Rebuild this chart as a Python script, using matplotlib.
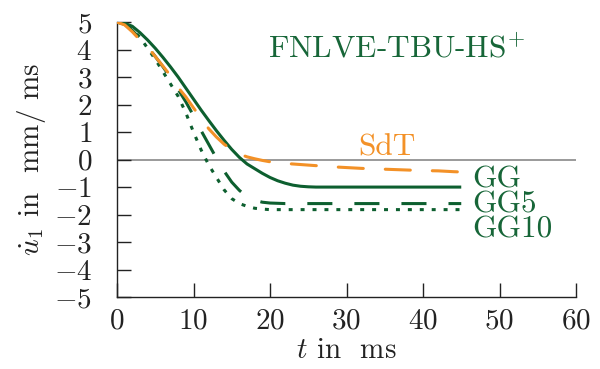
import matplotlib
matplotlib.use("Agg")
import matplotlib.pyplot as plt

plt.rcParams["font.family"] = "serif"
plt.rcParams["font.serif"] = ["cmr10", "DejaVu Serif"]
plt.rcParams["mathtext.fontset"] = "cm"
plt.rcParams["axes.formatter.use_mathtext"] = True

# time axis in ms
t_gg = [0, 1, 2, 3, 4, 5, 6, 7, 8, 9, 10, 11, 12, 13, 14, 15, 16, 17, 18, 19,
        20, 21, 22, 23, 24, 25, 26, 30, 35, 40, 45]
u_gg = [5.0, 4.96, 4.85, 4.62, 4.35, 4.05, 3.72, 3.37, 3.0, 2.6, 2.2, 1.8, 1.42,
        1.05, 0.7, 0.37, 0.08, -0.16, -0.33, -0.5, -0.65, -0.77, -0.86, -0.93,
        -0.97, -0.99, -1.0, -1.0, -1.0, -1.0, -1.0]

t_gg5 = [0, 1, 2, 3, 4, 5, 6, 7, 8, 9, 10, 11, 12, 13, 14, 15, 16, 17, 18, 19,
         20, 22, 30, 40, 45]
u_gg5 = [5.0, 4.92, 4.7, 4.4, 4.1, 3.75, 3.38, 2.98, 2.55, 2.1, 1.6, 1.05, 0.55,
         0.05, -0.42, -0.82, -1.12, -1.35, -1.48, -1.55, -1.58, -1.6, -1.6, -1.6,
         -1.6]

t_gg10 = [0, 1, 2, 3, 4, 5, 6, 7, 8, 9, 10, 11, 12, 13, 14, 15, 16, 17, 18, 19,
          20, 30, 40, 45]
u_gg10 = [5.0, 4.95, 4.75, 4.45, 4.05, 3.65, 3.2, 2.75, 2.3, 1.7, 1.0, 0.35, -0.2,
          -0.65, -1.1, -1.42, -1.6, -1.7, -1.77, -1.8, -1.82, -1.82, -1.82, -1.82]

t_sdt = [0, 1, 2, 3, 4, 5, 6, 7, 8, 9, 10, 11, 12, 13, 14, 15, 16, 17, 18, 19,
         20, 22, 24, 26, 28, 30, 32, 34, 36, 38, 40, 42, 44, 45]
u_sdt = [5.0, 4.9, 4.65, 4.35, 4.1, 3.75, 3.4, 3.05, 2.62, 2.28, 1.88, 1.5, 1.12,
         0.82, 0.56, 0.36, 0.2, 0.1, 0.03, -0.03, -0.08, -0.14, -0.18, -0.22,
         -0.26, -0.29, -0.32, -0.34, -0.36, -0.38, -0.4, -0.41, -0.44, -0.45]

x_ticks = [0, 10, 20, 30, 40, 50, 60]
y_ticks = [-5, -4, -3, -2, -1, 0, 1, 2, 3, 4, 5]

green = "#0d5f2f"
text_green = "#176638"
orange = "#f39127"
lw = 2.2

fig = plt.figure(figsize=(6.0, 3.69), dpi=100)
ax = fig.add_axes([0.195, 0.195, 0.765, 0.745])

ax.axhline(0, color="#7f7f7f", lw=1.1, zorder=1)

ax.plot(t_gg, u_gg, color=green, lw=lw, solid_capstyle="butt", zorder=3)
ax.plot(t_gg5, u_gg5, color=green, lw=lw, ls=(0, (8.2, 7.2)),
        dash_capstyle="butt", zorder=3)
ax.plot(t_gg10, u_gg10, color=green, lw=lw, ls=(0, (1.3, 2.6)),
        dash_capstyle="butt", zorder=3)
ax.plot(t_sdt, u_sdt, color=orange, lw=lw, ls=(0, (8.2, 7.2)),
        dash_capstyle="round", zorder=4)

fs = 21
fs_ann = 22.5
ax.text(19.75, 3.71, r"FNLVE-TBU-HS$^{+}$", color=text_green, fontsize=fs_ann,
        ha="left", va="baseline")
ax.text(31.5, 0.15, "SdT", color=orange, fontsize=fs_ann, ha="left",
        va="baseline")
ax.text(46.5, -1.02, "GG", color=text_green, fontsize=fs_ann, ha="left",
        va="baseline")
ax.text(46.5, -1.93, "GG5", color=text_green, fontsize=fs_ann, ha="left",
        va="baseline")
ax.text(46.5, -2.84, "GG10", color=text_green, fontsize=fs_ann, ha="left",
        va="baseline")

ax.set_xlim(0, 60)
ax.set_ylim(-5, 5)
ax.set_xticks(x_ticks)
ax.set_yticks(y_ticks)
ax.tick_params(direction="in", length=10, width=1.0, colors="#222222",
               labelsize=fs, labelcolor="#222222")
ax.tick_params(axis="y", pad=18)
ax.tick_params(axis="x", pad=8)

for side in ("top", "right"):
    ax.spines[side].set_visible(False)
for side in ("left", "bottom"):
    ax.spines[side].set_color("#222222")
    ax.spines[side].set_linewidth(1.0)

ax.set_xlabel(r"$t$ in  ms", fontsize=fs, color="#222222", labelpad=2)
ax.set_ylabel(r"$\dot{u}_1$ in  mm/ ms", fontsize=fs, color="#222222",
              labelpad=4)

fig.savefig("out.png", dpi=100)
